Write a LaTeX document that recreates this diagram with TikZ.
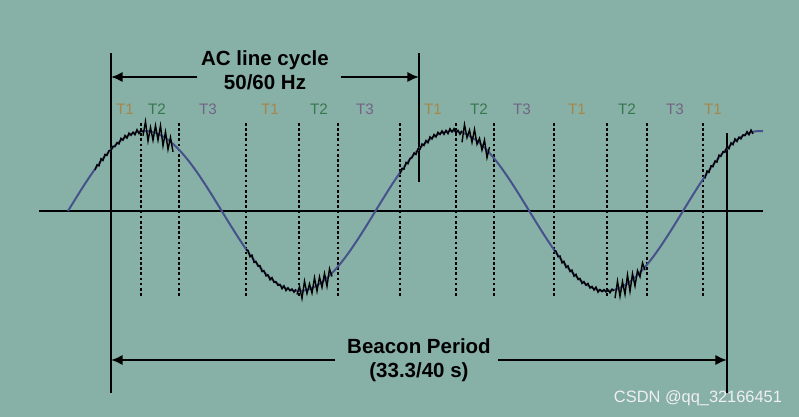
\documentclass[tikz,border=0pt]{standalone}
\usepackage{fontspec}
\setmainfont{Liberation Sans}
\usetikzlibrary{arrows.meta}

\definecolor{bgcol}{RGB}{135,176,166}
\definecolor{wavecol}{RGB}{70,82,140}
\definecolor{tone}{RGB}{165,135,75}
\definecolor{ttwo}{RGB}{55,120,80}
\definecolor{tthree}{RGB}{115,100,135}

\begin{document}
\begin{tikzpicture}[x=0.03cm, y=-0.03cm,
    bar/.style={line width=2.4pt},
    dimarrow/.style={line width=2.4pt, -{Latex[length=10pt,width=9pt]}},
    slotline/.style={line width=2.2pt, dash pattern=on 2.2pt off 2.2pt},
    wave/.style={line width=1.7pt, wavecol},
    noise/.style={line width=1.2pt, black, line join=miter},
    slotlabel/.style={inner sep=0pt, font=\fontsize{13}{15}\selectfont},
    title/.style={align=center, inner sep=0pt, font=\fontsize{17.5}{20.4}\selectfont\bfseries}]
				% Background
				\useasboundingbox (0,0) rectangle (799,417);
				\fill[bgcol] (0,0) rectangle (799,417);
				
				% Axis and solid markers
				\coordinate (ax0) at (39,211);
				\coordinate (ax1) at (763,211);
				\coordinate (ltop) at (111,53);
				\coordinate (lbot) at (111,393);
				\coordinate (mtop) at (419,53);
				\coordinate (mbot) at (419,182);
				\coordinate (rtop) at (727,133);
				\coordinate (rbot) at (727,393);
				\draw[bar] (ax0) -- (ax1);
				\draw[bar] (ltop) -- (lbot);
				\draw[bar] (mtop) -- (mbot);
				\draw[bar] (rtop) -- (rbot);
				
				% Time slots
				\foreach \x [count=\i] in {141,179,246,299,338,400,456,494,554,607,647,703} {
					\coordinate (s\i a) at (\x,123);
					\coordinate (s\i b) at (\x,298);
					\draw[slotline] (s\i a) -- (s\i b);
				}
				\foreach \x/\t/\c [count=\i] in {125/T1/tone, 157/T2/ttwo, 208/T3/tthree, 270/T1/tone, 319/T2/ttwo, 365/T3/tthree, 433/T1/tone, 479/T2/ttwo, 522/T3/tthree, 577/T1/tone, 627/T2/ttwo, 675/T3/tthree, 713/T1/tone}
					\node (lab\i) [slotlabel, text=\c] at (\x,109.5) {\t};
				
				% AC wave with noise (T1 small ripple, T2 large spikes)
				\draw[wave] plot[domain=68:763, samples=240] (\x,{211-80*sin((\x-68)/307.5*360)});
				\pgfmathsetseed{7}
				\foreach \a/\b/\n/\s/\k in {95/143/2.4/2/25, 143/173/10/2.5/13, 246/296/2.4/2/26, 297/332/10/2.5/15, 400/462/2.4/2/32, 462/489.5/10/2.5/12, 554/614/2.4/2/31, 615/645/10/2.5/13, 705/753/2.4/2/25}
					\draw[noise] plot[domain=\a:\b, samples=\k] (\x,{211-80*sin((\x-68)/307.5*360)+\n*(0.3+0.7*rnd)*cos(180*(\x-\a)/\s)});
				
				% AC line cycle
				\node (ac) [title] at (265,70) {AC line cycle\\50/60 Hz};
				\coordinate (acL) at (111,77);
				\coordinate (acR) at (419,77);
				\draw[dimarrow] ([xshift=-3pt]ac.west |- acL) -- (acL);
				\draw[dimarrow] ([xshift=10pt]ac.east |- acR) -- (acR);
				
				% Beacon period
				\node (beacon) [title] at (419,360) {Beacon Period\\(33.3/40 s)};
				\coordinate (bpL) at (111,360);
				\coordinate (bpR) at (727,360);
				\draw[dimarrow] ([xshift=-10pt]beacon.west |- bpL) -- (bpL);
				\draw[dimarrow] ([xshift=6pt]beacon.east |- bpR) -- (bpR);
				
				% Watermark
				\node (mark) [inner sep=0pt, text=white!88!gray, font=\fontsize{14}{16}\selectfont] at (698,398) {CSDN @qq\_32166451};
			\end{tikzpicture}
\end{document}
